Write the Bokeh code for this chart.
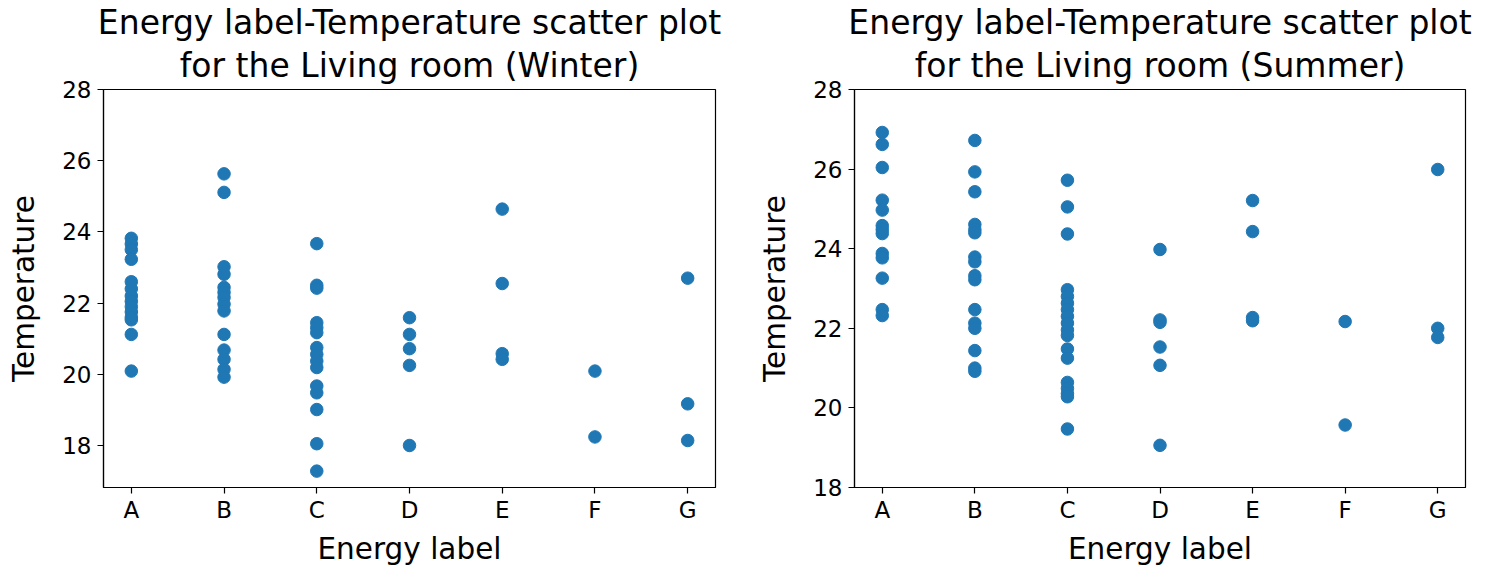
from bokeh.plotting import figure
from bokeh.layouts import row
from bokeh.models import Range1d, FixedTicker, ColumnDataSource, Title
from bokeh.embed import file_html
from bokeh.resources import INLINE

categories = ["A", "B", "C", "D", "E", "F", "G"]
y_ticks = [18, 20, 22, 24, 26, 28]

# Winter temperatures per energy label
winter_A = [23.82, 23.66, 23.5, 23.23, 22.6, 22.4, 22.2, 22.05, 21.9, 21.75, 21.6, 21.53, 21.12, 20.09]
winter_B = [25.63, 25.11, 23.02, 22.81, 22.44, 22.3, 22.16, 21.97, 21.78, 21.12, 20.68, 20.42, 20.14, 19.92]
winter_C = [23.67, 22.5, 22.42, 21.45, 21.31, 21.17, 20.75, 20.56, 20.37, 20.19, 19.67, 19.48, 19.01, 18.05, 17.28]
winter_D = [21.59, 21.12, 20.72, 20.25, 18.0]
winter_E = [24.64, 22.55, 20.58, 20.42]
winter_F = [20.09, 18.24]
winter_G = [22.7, 19.17, 18.14]

# Summer temperatures per energy label
summer_A = [26.92, 26.62, 26.04, 25.22, 24.97, 24.58, 24.48, 24.38, 23.88, 23.77, 23.26, 22.47, 22.32]
summer_B = [26.72, 25.93, 25.43, 24.61, 24.48, 24.4, 23.79, 23.67, 23.32, 23.22, 22.47, 22.13, 22.0, 21.44, 21.0, 20.92]
summer_C = [25.72, 25.05, 24.37, 22.97, 22.8, 22.63, 22.47, 22.3, 22.13, 21.96, 21.82, 21.48, 21.25, 20.64, 20.49, 20.36, 20.28, 19.47]
summer_D = [23.98, 22.21, 22.15, 21.53, 21.07, 19.06]
summer_E = [25.21, 24.43, 22.27, 22.19]
summer_F = [22.17, 19.57]
summer_G = [25.99, 22.0, 21.77]

winter = [winter_A, winter_B, winter_C, winter_D, winter_E, winter_F, winter_G]
summer = [summer_A, summer_B, summer_C, summer_D, summer_E, summer_F, summer_G]

title_line1 = "Energy label-Temperature scatter plot"
title_line2 = "for the Living room (%s)"

FONT = "DejaVu Sans"
BLUE = "#1f77b4"


def make_source(groups):
    xs, ys = [], []
    for i, vals in enumerate(groups):
        xs.extend([i] * len(vals))
        ys.extend(vals)
    return ColumnDataSource(dict(x=xs, y=ys))


def make_title(text, standoff):
    t = Title(text=text, align="center", text_font=FONT, text_font_size="33px",
              text_font_style="normal", text_color="black", standoff=standoff)
    return t


def make_plot(groups, season, y0, y1, width, bl, br):
    p = figure(width=width, height=568, output_backend="svg", toolbar_location=None,
               x_range=Range1d(-0.3, 6.3), y_range=Range1d(y0, y1),
               min_border_left=bl, min_border_right=br, min_border_top=89, min_border_bottom=40,
               title=None)
    p.add_layout(make_title(title_line2 % season, 9), "above")
    p.add_layout(make_title(title_line1, -5), "above")
    p.scatter("x", "y", source=make_source(groups), size=12.5, color=BLUE, line_color=BLUE)
    p.xgrid.visible = False
    p.ygrid.visible = False
    p.outline_line_color = "black"
    p.outline_line_width = 1.2
    p.xaxis.ticker = FixedTicker(ticks=list(range(len(categories))))
    p.xaxis.major_label_overrides = {i: c for i, c in enumerate(categories)}
    p.yaxis.ticker = FixedTicker(ticks=y_ticks)
    p.xaxis.axis_label = "Energy label"
    p.yaxis.axis_label = "Temperature"
    for ax in (p.xaxis[0], p.yaxis[0]):
        ax.axis_line_color = "black"
        ax.axis_line_width = 1.2
        ax.major_tick_line_color = "black"
        ax.major_tick_line_width = 1.2
        ax.major_tick_out = 6
        ax.major_tick_in = 0
        ax.minor_tick_line_color = None
        ax.major_label_text_font = FONT
        ax.major_label_text_font_size = "23px"
        ax.major_label_text_color = "black"
        ax.axis_label_text_font = FONT
        ax.axis_label_text_font_size = "29.5px"
        ax.axis_label_text_font_style = "normal"
        ax.axis_label_text_color = "black"
    p.xaxis.major_label_standoff = 3
    p.yaxis.major_label_standoff = 6
    p.xaxis.axis_label_standoff = 6
    p.yaxis.axis_label_standoff = 18
    p.background_fill_color = "white"
    p.border_fill_color = "white"
    return p


p1 = make_plot(winter, "Winter", 16.82, 28, 745, 103, 30)
p2 = make_plot(summer, "Summer", 18, 28, 730, 109, 10)
layout = row(p1, p2)

open("out.html", "w").write(file_html(layout, INLINE))
